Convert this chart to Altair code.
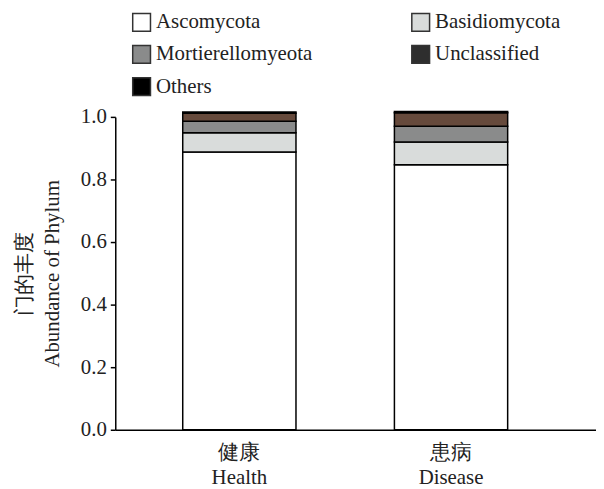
import altair as alt
import pandas as pd

groups = ["Health", "Disease"]
group_cn = ["健康", "患病"]
phyla = ["Ascomycota", "Basidiomycota", "Mortierellomyeota", "Unclassified", "Others"]
health = [0.888, 0.061, 0.037, 0.026, 0.004]
disease = [0.847, 0.073, 0.050, 0.043, 0.004]
bar_colors = ["#ffffff", "#d9dcdb", "#8a8b8b", "#664a3c", "#000000"]
legend_colors = ["#ffffff", "#d9dcdb", "#8a8b8b", "#2e2e2e", "#000000"]
legend_order = ["Ascomycota", "Mortierellomyeota", "Others", "Basidiomycota", "Unclassified"]

rows = []
for g, vals in zip(groups, [health, disease]):
    for i, (p, v) in enumerate(zip(phyla, vals)):
        rows.append({"group": g, "phylum": p, "value": v, "idx": i})
df = pd.DataFrame(rows)

FONT = "serif"
FS = 21

label_expr = "datum.label == 'Health' ? ['%s', 'Health'] : ['%s', 'Disease']" % (group_cn[0], group_cn[1])

x = alt.X("group:N", sort=groups,
          scale=alt.Scale(paddingInner=0.465, paddingOuter=0.368, align=0.433),
          axis=alt.Axis(title=None, labelAngle=0, ticks=False, labelExpr=label_expr,
                        labelFont=FONT, labelFontSize=FS, labelColor="#222",
                        labelLineHeight=25, labelPadding=12,
                        domainColor="#000", domainWidth=1.5))
y = alt.Y("value:Q", stack="zero",
          scale=alt.Scale(domain=[0, 1.0], nice=False),
          axis=alt.Axis(title=["门的丰度", "Abundance of Phylum"], values=[0, 0.2, 0.4, 0.6, 0.8, 1.0],
                        format=".1f", grid=False, tickSize=5, tickColor="#000", tickWidth=1.5,
                        domainColor="#000", domainWidth=1.5,
                        labelFont=FONT, labelFontSize=FS, labelColor="#222", labelPadding=4,
                        titleFont=FONT, titleFontSize=FS, titleFontWeight="normal",
                        titleColor="#222", titleLineHeight=28, titlePadding=18))

bars = alt.Chart(df).mark_bar(stroke="#000", strokeWidth=1.5, clip=False).encode(
    x=x, y=y,
    fill=alt.Fill("phylum:N", sort=phyla,
                  scale=alt.Scale(domain=phyla, range=bar_colors), legend=None),
    order=alt.Order("idx:Q", sort="ascending"),
)

legend_range = [legend_colors[phyla.index(p)] for p in legend_order]

legend_layer = alt.Chart(df).mark_square(opacity=0).encode(
    x=alt.X("group:N", sort=groups),
    y=alt.Y("value:Q"),
    fill=alt.Fill("phylum:N",
                  scale=alt.Scale(domain=legend_order, range=legend_range),
                  legend=alt.Legend(title=None, orient="none", legendX=16, legendY=-106,
                                    columns=2, columnPadding=96, rowPadding=7.5,
                                    symbolType="square", symbolSize=320,
                                    symbolOpacity=1, symbolStrokeColor="#333",
                                    symbolStrokeWidth=1.5,
                                    labelFont=FONT, labelFontSize=FS, labelColor="#222",
                                    labelOffset=4, labelLimit=400)),
)

chart = alt.layer(bars, legend_layer).resolve_scale(fill="independent").properties(
    width=484, height=315,
    autosize=alt.AutoSizeParams(type="none"),
    padding={"left": 108, "top": 108, "right": 0, "bottom": 57},
).configure_view(stroke=None)

chart.save("out.html", embed_options={"renderer": "svg", "actions": False})
